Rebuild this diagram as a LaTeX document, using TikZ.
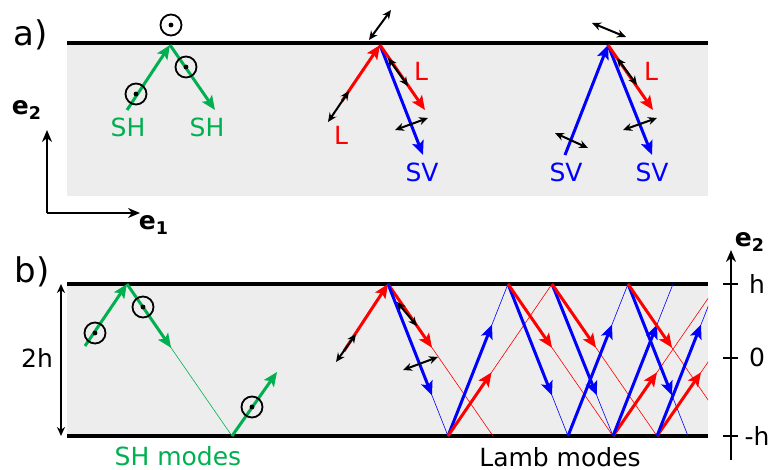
\documentclass[tikz,border=0pt]{standalone}
\usepackage{fontspec}
\setmainfont{DejaVu Sans}
\usepackage{xcolor}
\definecolor{shGreen}  {HTML}{00B050}
\definecolor{lRed}     {HTML}{FF0000}
\definecolor{svBlue}   {HTML}{0000FF}
\definecolor{plateBack}{HTML}{EDEDED}
\usetikzlibrary{arrows.meta, calc}
\tikzset{
    wall/.style={line width=1.6pt},
    plate/.style={fill=plateBack, draw=none},
    ray/.style={line width=1.5pt,
                -{Stealth[length=7pt, width=6pt, inset=1.5pt]}},
    shray/.style={ray, shGreen},
    lray/.style={ray, lRed},
    svray/.style={ray, svBlue},
    thinray/.style={line width=0.3pt},
    pol/.style={line width=1pt,
                {Stealth[length=4.5pt, width=4pt]}-{Stealth[length=4.5pt, width=4pt]}},
    outdot/.style={circle, draw, line width=0.9pt, minimum size=10.5pt,
                   inner sep=0pt,
                   path picture={\fill (path picture bounding box.center) circle (1.2pt);}},
    lbl/.style={font=\fontsize{12.5}{14}\selectfont},
    panel/.style={font=\fontsize{17}{20}\selectfont},
    axisarrow/.style={line width=1pt, -{Stealth[length=6pt, width=5pt]}},
}

\begin{document}
\begin{tikzpicture}[x=0.5pt, y=-0.5pt]
\useasboundingbox (0,0) rectangle (771,470);

% --- a) single reflections at a free surface ---
\node[panel] (a-tag) at (31,35) {a)};
\fill[plate] (67,43) rectangle (708,196);
\draw[wall] (67,43) coordinate (a-w1) -- (708,43) coordinate (a-w2);

\coordinate (a-o) at (47,213);
\coordinate (a-e1) at (140,213);
\coordinate (a-e2) at (47,130);
\draw[axisarrow] (a-o) -- (a-e1);
\draw[axisarrow] (a-o) -- (a-e2);
\node[lbl] (a-e1-l) at (154,225) {\bfseries e\textsubscript{1}};
\node[lbl] (a-e2-l) at (27,110) {\bfseries e\textsubscript{2}};

% SH
\coordinate (a-sh) at (170,45);
\coordinate (a-sh-in) at (127,110);
\coordinate (a-sh-out) at (215,110);
\draw[shray] (a-sh-in) -- (a-sh);
\draw[shray] (a-sh) -- (a-sh-out);
\node[outdot] (a-sh-d1) at (136,94) {};
\node[outdot] (a-sh-d2) at (186,67) {};
\node[outdot] (a-sh-d3) at (171,25) {};
\node[lbl, shGreen] (a-sh-l1) at (128,127) {SH};
\node[lbl, shGreen] (a-sh-l2) at (207,127) {SH};

% incident L
\coordinate (a-l) at (380,45);
\coordinate (a-l-in) at (342,101);
\coordinate (a-l-r) at (425,110);
\coordinate (a-l-s) at (423,155);
\draw[lray] (a-l-in) -- (a-l);
\draw[svray] (a-l) -- (a-l-s);
\draw[lray] (a-l) -- (a-l-r);
\draw[pol] (328,122) -- (349,91);
\draw[pol] (388,58) -- (408,86);
\draw[pol] (395,130) -- (428,118);
\draw[pol] (369,40) -- (391,10);
\node[lbl, lRed] (a-l-l1) at (341,135) {L};
\node[lbl, lRed] (a-l-l2) at (421,71) {L};
\node[lbl, svBlue] (a-l-l3) at (422,172) {SV};

% incident SV
\coordinate (a-s) at (608,45);
\coordinate (a-s-in) at (565,155);
\coordinate (a-s-r) at (653,110);
\coordinate (a-s-s) at (652,155);
\draw[svray] (a-s-in) -- (a-s);
\draw[svray] (a-s) -- (a-s-s);
\draw[lray] (a-s) -- (a-s-r);
\draw[pol] (555,133) -- (588,148);
\draw[pol] (617,58) -- (637,85);
\draw[pol] (623,130) -- (657,118);
\draw[pol] (592,23) -- (626,37);
\node[lbl, lRed] (a-s-l1) at (651,71) {L};
\node[lbl, svBlue] (a-s-l2) at (566,172) {SV};
\node[lbl, svBlue] (a-s-l3) at (652,172) {SV};

% --- b) guided modes in a plate of thickness 2h ---
\node[panel] (b-tag) at (32,272) {b)};
\fill[plate] (67,284) rectangle (708,436);
\draw[wall] (67,284) -- (708,284);
\draw[wall] (67,436) -- (708,436);

\draw[pol] (61,284) -- (61,436);
\node[lbl] (b-2h) at (37,358) {2h};

% thickness axis
\coordinate (b-z0) at (731,460);
\coordinate (b-z1) at (731,250);
\draw[axisarrow, line width=1.1pt] (b-z0) -- (b-z1);
\foreach \yy in {284, 358, 436}
    \draw[line width=1pt] (723,\yy) -- (738,\yy);
\node[lbl] (b-h) at (757,284) {h};
\node[lbl] (b-0) at (757,357) {0};
\node[lbl] (b-mh) at (757,436) {-h};
\node[lbl] (b-e2) at (750,242) {\bfseries e\textsubscript{2}};

% SH modes
\coordinate (b-sh) at (127,284);
\coordinate (b-sh-in) at (85,346);
\coordinate (b-sh-b) at (232,436);
\coordinate (b-sh-up) at (277,372);
\draw[thinray, shGreen] (b-sh) -- (b-sh-b);
\draw[shray] (b-sh-in) -- (b-sh);
\draw[shray] (b-sh) -- ($(b-sh)!0.42!(b-sh-b)$);
\draw[shray] (b-sh-b) -- (b-sh-up);
\node[outdot] (b-sh-d1) at (95,333) {};
\node[outdot] (b-sh-d2) at (143,307) {};
\node[outdot] (b-sh-d3) at (252,407) {};
\node[lbl, shGreen] (b-sh-l) at (178,456) {SH modes};

% Lamb modes: reflection points
\coordinate (tA) at (388,284);
\coordinate (tB) at (508,284);
\coordinate (tC) at (552,284);
\coordinate (tD) at (628,284);
\coordinate (tE) at (673,284);
\coordinate (tG) at (718,284);
\coordinate (tH) at (762,284);
\coordinate (tI) at (717,284);
\coordinate (bA) at (448,436);
\coordinate (bB) at (493,436);
\coordinate (bC) at (568,436);
\coordinate (bD) at (613,436);
\coordinate (bE) at (657,436);
\coordinate (bF) at (688,436);
\coordinate (bG) at (733,436);

\begin{scope}
\clip (67,284) rectangle (708,436);
% continuation of the rays
\draw[thinray, lRed] (tA) -- (bB);
\draw[thinray, svBlue] (tA) -- (bA);
\draw[thinray, lRed] (bA) -- (tC);
\draw[thinray, svBlue] (bA) -- (tB);
\draw[thinray, lRed] (tB) -- (bD);
\draw[thinray, svBlue] (tB) -- (bC);
\draw[thinray, lRed] (tC) -- (bE);
\draw[thinray, svBlue] (tC) -- (bD);
\draw[thinray, svBlue] (bC) -- (tD);
\draw[thinray, lRed] (bD) -- (tG);
\draw[thinray, svBlue] (bD) -- (tE);
\draw[thinray, lRed] (bE) -- (tH);
\draw[thinray, svBlue] (bE) -- (tI);
\draw[thinray, lRed] (tD) -- (bG);
\draw[thinray, svBlue] (tD) -- (bF);
% wave fronts
\draw[lray] (tA) -- ($(tA)!0.419!(bB)$);
\draw[svray] (tA) -- ($(tA)!0.733!(bA)$);
\draw[svray] (bA) -- ($(bA)!0.733!(tB)$);
\draw[lray] (bA) -- ($(bA)!0.419!(tC)$);
\draw[svray] (tB) -- ($(tB)!0.733!(bC)$);
\draw[lray] (tB) -- ($(tB)!0.419!(bD)$);
\draw[svray] (tC) -- ($(tC)!0.733!(bD)$);
\draw[lray] (tC) -- ($(tC)!0.419!(bE)$);
\draw[svray] (bC) -- ($(bC)!0.733!(tD)$);
\draw[lray] (bD) -- ($(bD)!0.419!(tG)$);
\draw[svray] (bD) -- ($(bD)!0.733!(tE)$);
\draw[lray] (bE) -- ($(bE)!0.419!(tH)$);
\draw[svray] (bE) -- ($(bE)!0.733!(tI)$);
\draw[svray] (tD) -- ($(tD)!0.733!(bF)$);
\draw[lray] (tD) -- ($(tD)!0.419!(bG)$);
\end{scope}

\coordinate (b-l-in) at (344,351);
\draw[lray] (b-l-in) -- (tA);
\draw[pol] (336,362) -- (356,334);
\draw[pol] (397,302) -- (417,326);
\draw[pol] (403,370) -- (438,357);
\node[lbl] (b-lamb-l) at (560,457) {Lamb modes};
\end{tikzpicture}
\end{document}
